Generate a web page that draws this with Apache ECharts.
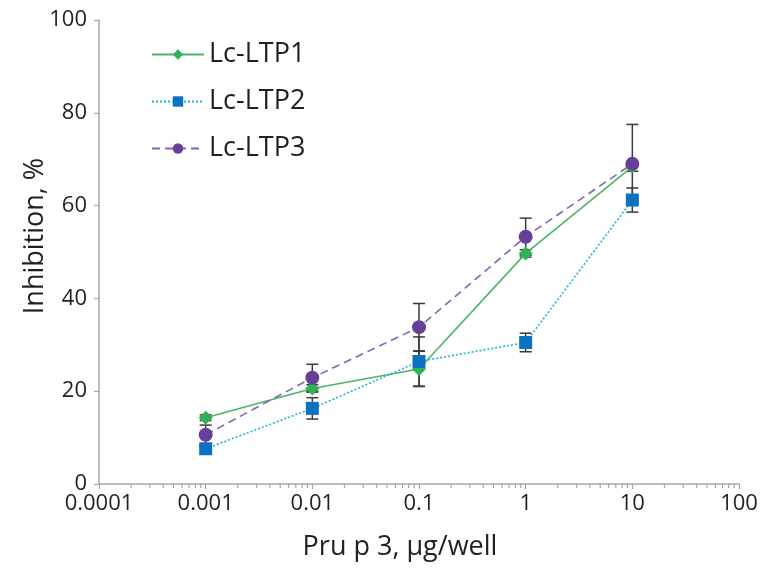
<!DOCTYPE html>
<html>
<head>
<meta charset="utf-8">
<script src="https://cdn.jsdelivr.net/npm/echarts@6/dist/echarts.min.js"></script>
<style>html,body{margin:0;padding:0;background:#fff}#c{width:773px;height:582px}</style>
</head>
<body>
<div id="c"></div>
<script>
var doses = [0.001, 0.01, 0.1, 1, 10];
var ltp1 = [14.3, 20.6, 24.8, 49.7, 68.4];
var ltp1Err = [0.6, 0.8, 3.8, 0.8, 1.0];
var ltp2 = [7.6, 16.3, 26.4, 30.5, 61.2];
var ltp2Err = [0.8, 2.3, 5.3, 2.0, 2.6];
var ltp3 = [10.6, 22.9, 33.8, 53.3, 69.0];
var ltp3Err = [2.1, 2.9, 5.1, 4.0, 8.5];
var xTickLabels = ['0.0001', '0.001', '0.01', '0.1', '1', '10', '100'];
var minorTickValues = [];
for (var e = -4; e < 2; e++) {
  for (var k = 2; k <= 9; k++) minorTickValues.push(+(k * Math.pow(10, e)).toPrecision(3));
}
var font = 'Open Sans, Noto Sans, sans-serif';

function pairs(xs, ys) { return xs.map(function (x, i) { return [x, ys[i]]; }); }
function errData(xs, ys, es) { return xs.map(function (x, i) { return [x, ys[i], es[i]]; }); }

function errSeries(data) {
  return {
    type: 'custom', z: 1, clip: false, silent: true,
    data: data,
    renderItem: function (params, api) {
      var x = api.value(0), y = api.value(1), e = api.value(2);
      var top = api.coord([x, y + e]);
      var bot = api.coord([x, y - e]);
      var w = 6;
      var st = { stroke: '#3a3a3a', lineWidth: 1.5 };
      return {
        type: 'group', children: [
          { type: 'line', shape: { x1: top[0], y1: top[1], x2: bot[0], y2: bot[1] }, style: st },
          { type: 'line', shape: { x1: top[0] - w, y1: top[1], x2: top[0] + w, y2: top[1] }, style: st },
          { type: 'line', shape: { x1: bot[0] - w, y1: bot[1], x2: bot[0] + w, y2: bot[1] }, style: st }
        ]
      };
    }
  };
}

var chart = echarts.init(document.getElementById('c'), null, { renderer: 'canvas' });
chart.setOption({
  animation: false,
  backgroundColor: '#fff',
  grid: { left: 99, right: 34, top: 20, bottom: 98 },
  legend: {
    orient: 'vertical', left: 146, top: 36,
    itemWidth: 52, itemHeight: 13, itemGap: 20,
    textStyle: { fontFamily: font, fontSize: 27, color: '#231f20' },
    data: ['Lc-LTP1', 'Lc-LTP2', 'Lc-LTP3']
  },
  xAxis: {
    type: 'log', logBase: 10, min: 0.0001, max: 100,
    name: 'Pru p 3, µg/well', nameLocation: 'middle', nameGap: 50,
    nameTextStyle: { fontFamily: font, fontSize: 27, color: '#231f20', padding: [0, 38, 0, 0] },
    axisLine: { lineStyle: { color: '#a6a6a6', width: 1.5 } },
    axisTick: { show: true, length: 5, lineStyle: { color: '#a6a6a6', width: 1.2 } },
    axisLabel: {
      fontFamily: font, fontSize: 22, color: '#231f20', margin: 9,
      formatter: function (v) { var i = Math.round(Math.log10(v)) + 4; return xTickLabels[i]; }
    },
    splitLine: { show: false }
  },
  yAxis: {
    type: 'value', min: 0, max: 100, interval: 20,
    name: 'Inhibition, %', nameLocation: 'middle', nameGap: 50, nameMoveOverlap: false,
    nameTextStyle: { fontFamily: font, fontSize: 27, color: '#231f20', padding: [0, 0, 0, 32] },
    axisLine: { show: true, lineStyle: { color: '#a6a6a6', width: 1.5 } },
    axisTick: { show: true, length: 5, lineStyle: { color: '#a6a6a6', width: 1.2 } },
    axisLabel: { fontFamily: font, fontSize: 22, color: '#231f20', margin: 12 },
    splitLine: { show: false }
  },
  series: [
    {
      type: 'custom', z: 1, clip: false, silent: true,
      data: minorTickValues.map(function (v) { return [v, 0]; }),
      renderItem: function (params, api) {
        var p = api.coord([api.value(0), 0]);
        return { type: 'line', shape: { x1: p[0], y1: p[1], x2: p[0], y2: p[1] + 4 }, style: { stroke: '#a6a6a6', lineWidth: 1.2 } };
      }
    },
    errSeries(errData(doses, ltp1, ltp1Err)),
    errSeries(errData(doses, ltp2, ltp2Err)),
    errSeries(errData(doses, ltp3, ltp3Err)),
    {
      name: 'Lc-LTP1', type: 'line', z: 3, data: pairs(doses, ltp1),
      symbol: 'diamond', symbolSize: 14,
      itemStyle: { color: '#2fb156' },
      lineStyle: { color: '#4cb563', width: 1.6, type: 'solid' }
    },
    {
      name: 'Lc-LTP2', type: 'line', z: 3, data: pairs(doses, ltp2),
      symbol: 'rect', symbolSize: 13,
      itemStyle: { color: '#0b72c1' },
      lineStyle: { color: '#25b0dc', width: 1.6, type: [2, 2] }
    },
    {
      name: 'Lc-LTP3', type: 'line', z: 3, data: pairs(doses, ltp3),
      symbol: 'circle', symbolSize: 14,
      itemStyle: { color: '#653f98' },
      lineStyle: { color: '#8466b0', width: 1.6, type: [8, 5] }
    }
  ]
});
</script>
</body>
</html>
